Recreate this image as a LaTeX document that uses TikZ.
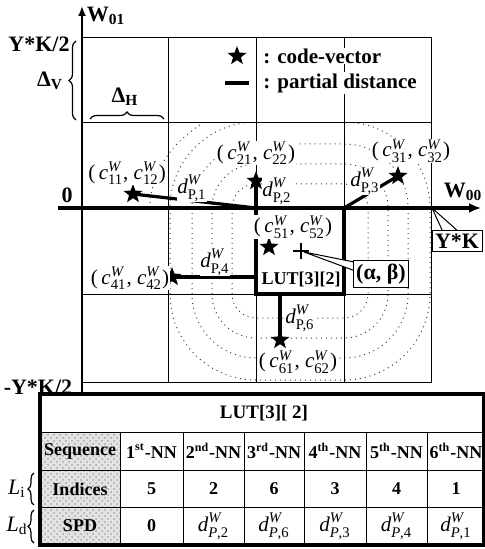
\documentclass[tikz,border=0pt]{standalone}
\usepackage{amsmath}
\usepackage{fontspec}
\setmainfont{Liberation Serif}
\usetikzlibrary{shapes.geometric,decorations.pathreplacing,arrows.meta,patterns}
\newcommand{\cw}[1]{\textit{c}^{\textit{W}}_{\text{#1}}}
\newcommand{\dw}[1]{\textit{d}^{\textit{W}}_{\text{#1}}}
\begin{document}
\begin{tikzpicture}[x=0.5pt,y=-0.5pt,
  gridln/.style={line width=0.5pt},
  thickln/.style={line width=1.6pt},
  contour/.style={dotted,line width=0.5pt,black!75},
  lbl/.style={font=\fontsize{10.5}{12}\selectfont,fill=white,inner sep=0.3pt},
  dlbl/.style={font=\fontsize{10.5}{12}\selectfont,fill=white,inner sep=0.3pt},
  bl/.style={font=\fontsize{11}{13}\selectfont\bfseries,inner sep=0.5pt},
  tbl/.style={font=\fontsize{9}{11}\selectfont\bfseries,inner sep=0.5pt},
  codev/.style={star,star points=5,star point ratio=2.4,fill=black,draw=none,inner sep=0pt,minimum size=10pt},
  bracestyle/.style={decorate,decoration={brace,amplitude=3.5pt},line width=0.6pt},
  callbox/.style={draw,fill=white,line width=0.5pt,inner sep=1.5pt}
]
\useasboundingbox (0,0) rectangle (485,549);
% contours
\begin{scope}
\clip (82,123) rectangle (431,382);
\foreach \r in {24,44,64,86}{
  \draw[contour,rounded corners=\r*0.5pt] (256-\r,208-\r) rectangle (344+\r,294+\r);
}
\draw[contour] (150,208) .. controls (150,160) and (190,118) .. (256,100);
\end{scope}
% grid
\draw[gridln] (82,38) -- (431,38) -- (431,382) -- (82,382);
\foreach \y in {123,294}{\draw[gridln] (82,\y) -- (431,\y);}
\foreach \x in {168,256,344}{\draw[gridln] (\x,38) -- (\x,382);}
% axes
\draw[line width=1pt,-{Latex[length=5pt,width=4pt]}] (82,393) -- (82,6);
\draw[thickln,-{Latex[length=6pt,width=5pt]}] (58,208) -- (481,208);
% named corners
\coordinate (lutTL) at (256,208);
\coordinate (lutTR) at (344,208);
\coordinate (lutL4) at (256,277);
\coordinate (lutB6) at (280,294);
% LUT box
\draw[thickln] (256,208) rectangle (344,294);
% partial distances
\coordinate (p1) at (133,194);
\coordinate (p2) at (256,181);
\coordinate (p3) at (398,176);
\coordinate (p4) at (172,277);
\coordinate (p5) at (269,247);
\coordinate (p6) at (280,340);
\draw[thickln] (p1) -- (lutTL);
\draw[thickln] (lutTL) -- (p2);
\draw[thickln] (lutTR) -- (p3);
\draw[thickln] (p4) -- (lutL4);
\draw[thickln] (lutB6) -- (p6);
% stars
\node[codev] (s1) at (p1) {};
\node[codev] (s2) at (p2) {};
\node[codev] (s3) at (p3) {};
\node[codev] (s4) at (p4) {};
\node[codev] (s5) at (p5) {};
\node[codev] (s6) at (p6) {};
% cross (alpha,beta)
\coordinate (ab0) at (301,251);
\draw[line width=1.3pt] (293,251) -- (309,251) (301,243) -- (301,259);
% labels
\node[lbl] (c1) at (127,173) {(\,$\cw{11}$, $\cw{12}$)};
\node[lbl] (c2) at (256,153) {(\,$\cw{21}$, $\cw{22}$)};
\node[lbl] (c3) at (411,151) {(\,$\cw{31}$, $\cw{32}$)};
\node[lbl] (c4) at (130,278) {(\,$\cw{41}$, $\cw{42}$)};
\node[lbl] (c5) at (293,227) {(\,$\cw{51}$, $\cw{52}$)};
\node[lbl] (c6) at (298,362) {(\,$\cw{61}$, $\cw{62}$)};
\node[dlbl] (d1) at (192,188) {$\dw{P,1}$};
\node[dlbl] (d2) at (277,191) {$\dw{P,2}$};
\node[dlbl] (d3) at (365,181) {$\dw{P,3}$};
\node[dlbl] (d4) at (215,262) {$\dw{P,4}$};
\node[dlbl] (d6) at (300,318) {$\dw{P,6}$};
\node[tbl] (lutlbl) at (301,279) {LUT[3][2]};
% callouts
\fill[white,draw=black,line width=0.5pt] (304,252) -- (364,264) -- (358,272) -- cycle;
\node[callbox,font=\fontsize{11}{13}\selectfont\bfseries] (ab) at (381,274) {(α, β)};
\fill[white,draw=black,line width=0.5pt] (432,208) -- (443,232) -- (459,232) -- cycle;
\node[callbox,font=\fontsize{11}{13}\selectfont\bfseries] (yk) at (457,241) {Y*K};
% legend
\node[codev] (legstar) at (237,56) {};
\node[bl,anchor=west,fill=white,font=\fontsize{10.5}{12}\selectfont\bfseries] (legt1) at (262,56) {: code-vector};
\draw[thickln] (225,83) -- (249,83) coordinate (legdash);
\node[bl,anchor=west,fill=white,font=\fontsize{10.5}{12}\selectfont\bfseries] (legt2) at (262,83) {: partial distance};
% axis labels
\node[bl] (w01) at (106,16) {W\textsubscript{01}};
\node[bl] (w00) at (463,192) {W\textsubscript{00}};
\node[bl] (ykh) at (39,44) {Y*K/2};
\node[bl] (zero) at (67,195) {0};
\node[bl] (ykm) at (38,387) {-Y*K/2};
\draw[bracestyle] (76,120) -- (76,41);
\node[bl] (dv) at (50,81) {Δ\textsubscript{V}};
\draw[bracestyle] (90,119) -- (164,119);
\node[bl] (dh) at (125,97) {Δ\textsubscript{H}};
% table
\fill[gray!22] (40,432) rectangle (120,545);
\fill[pattern=crosshatch dots,pattern color=gray!70] (40,432) rectangle (120,545);
\foreach \y in {432,470,507}{\draw[gridln] (40,\y) -- (484,\y);}
\foreach \x in {120,183,244,304,366,427}{\draw[gridln] (\x,432) -- (\x,545);}
\draw[thickln] (40,394) rectangle (484,545);
\node[tbl,font=\fontsize{9.5}{11}\selectfont\bfseries] (title) at (264,413) {LUT[3][ 2]};
\node[tbl] (seq) at (80,451) {Sequence};
\node[tbl] (ind) at (80,489) {Indices};
\node[tbl] (spd) at (80,526) {SPD};
\node[tbl] (n1) at (151.5,451) {1\textsuperscript{st}-NN};
\node[tbl] (n2) at (213.5,451) {2\textsuperscript{nd}-NN};
\node[tbl] (n3) at (274,451) {3\textsuperscript{rd}-NN};
\node[tbl] (n4) at (335,451) {4\textsuperscript{th}-NN};
\node[tbl] (n5) at (396.5,451) {5\textsuperscript{th}-NN};
\node[tbl] (n6) at (456,451) {6\textsuperscript{th}-NN};
\node[tbl] (i1) at (151.5,489) {5};
\node[tbl] (i2) at (213.5,489) {2};
\node[tbl] (i3) at (274,489) {6};
\node[tbl] (i4) at (335,489) {3};
\node[tbl] (i5) at (396.5,489) {4};
\node[tbl] (i6) at (456,489) {1};
\node[tbl] (q1) at (151.5,526) {0};
\node[dlbl,fill=none] (q2) at (213.5,526) {$\dw{\textit{P},2}$};
\node[dlbl,fill=none] (q3) at (274,526) {$\dw{\textit{P},6}$};
\node[dlbl,fill=none] (q4) at (335,526) {$\dw{\textit{P},3}$};
\node[dlbl,fill=none] (q5) at (396.5,526) {$\dw{\textit{P},4}$};
\node[dlbl,fill=none] (q6) at (456,526) {$\dw{\textit{P},1}$};
\draw[bracestyle,decoration={brace,amplitude=3pt}] (34,505) -- (34,473);
\draw[bracestyle,decoration={brace,amplitude=3pt}] (34,543) -- (34,510);
\node[font=\fontsize{11}{13}\selectfont,inner sep=0.5pt] (li) at (17,489) {\textit{L}\textsubscript{i}};
\node[font=\fontsize{11}{13}\selectfont,inner sep=0.5pt] (ld) at (17,526) {\textit{L}\textsubscript{d}};
\end{tikzpicture}
\end{document}
